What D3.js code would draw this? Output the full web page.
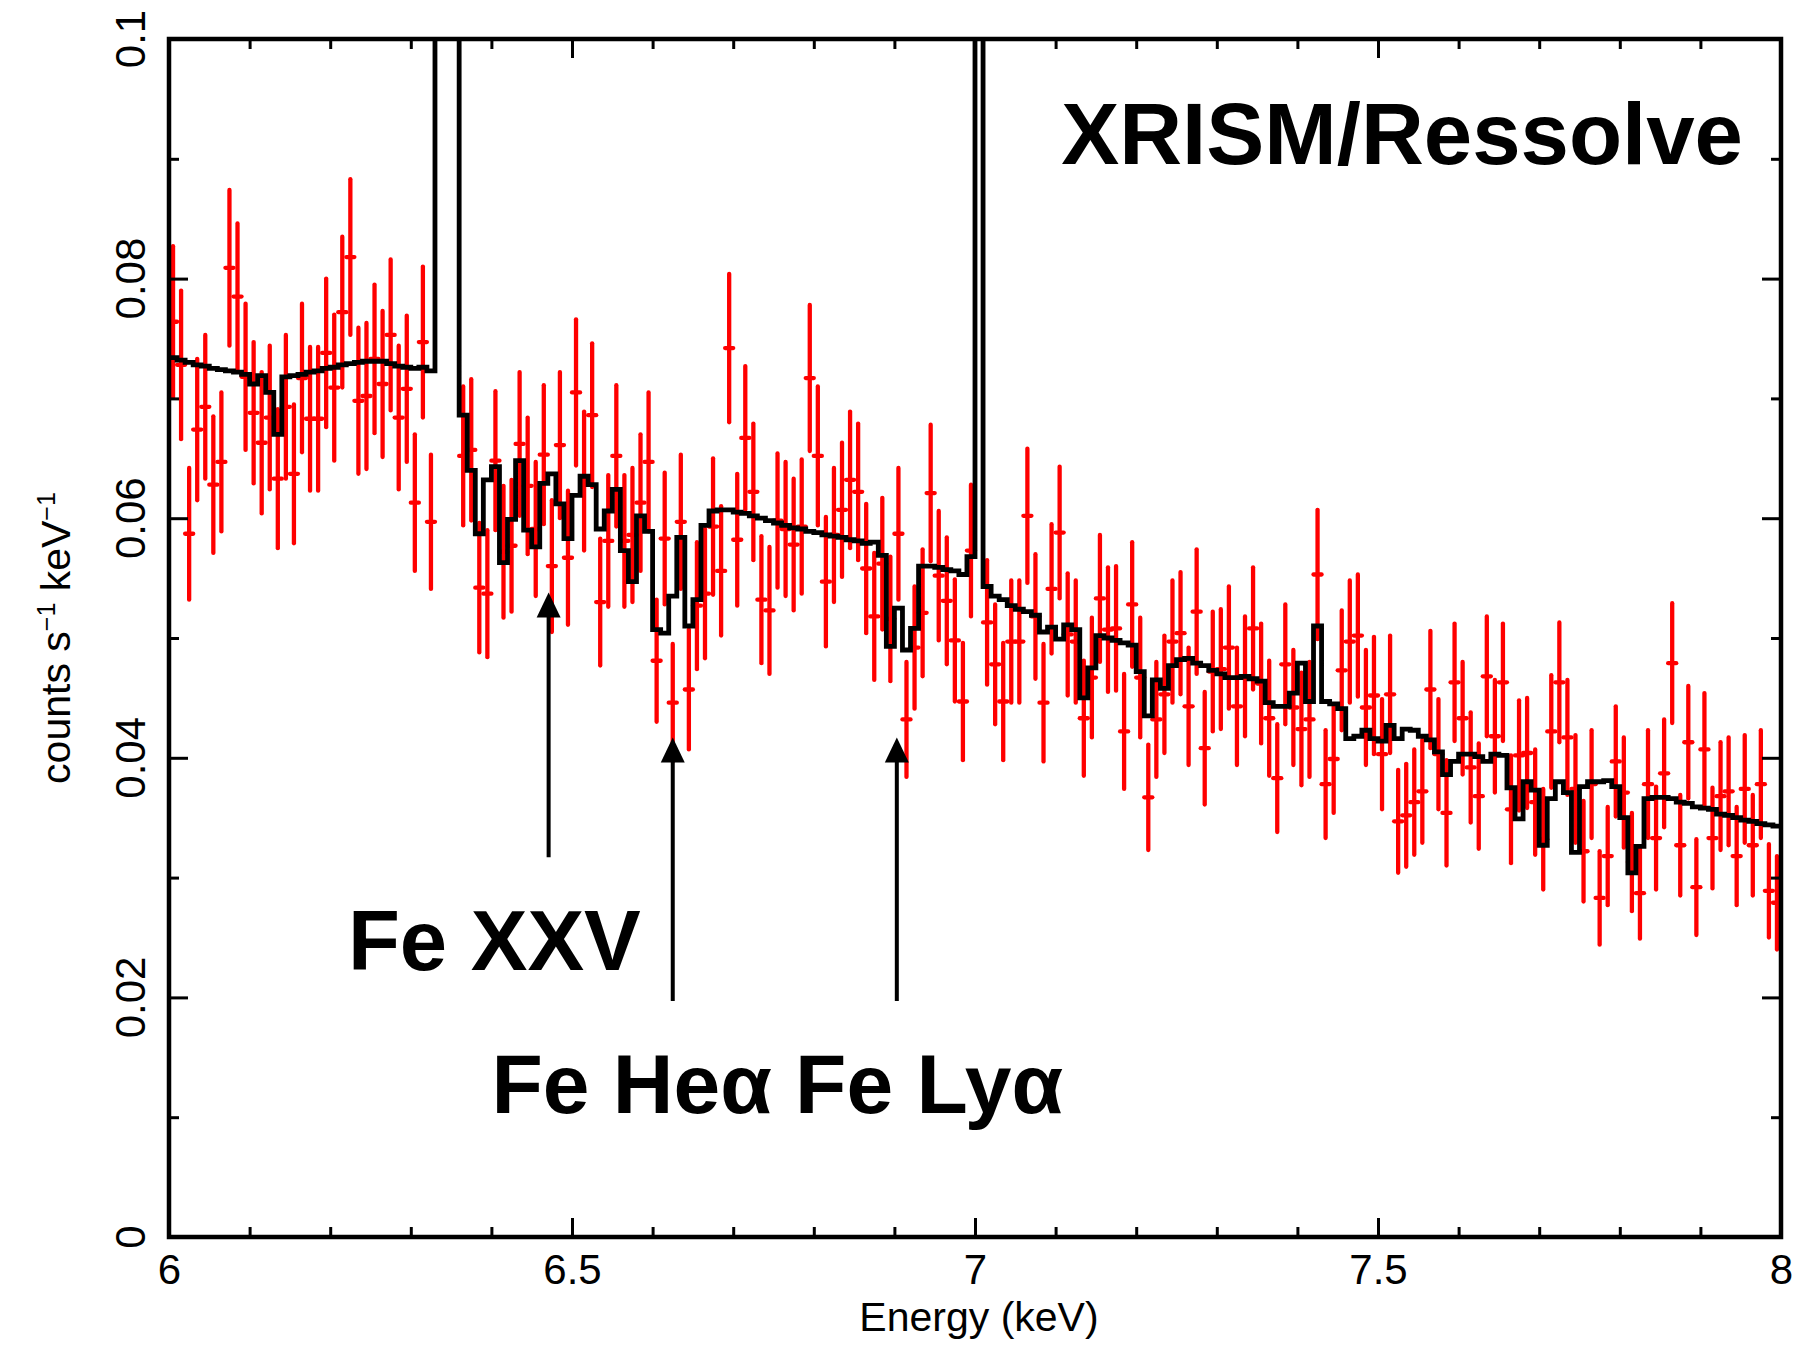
<!DOCTYPE html>
<html><head><meta charset="utf-8">
<script src="https://cdn.jsdelivr.net/npm/d3@7"></script>
<style>body{margin:0;background:#fff} svg{display:block}</style>
</head><body>
<svg id="c" width="1793" height="1346"></svg>
<script>
// ---------- axes / ticks ----------
const xTicksMajor = [6, 6.5, 7, 7.5, 8];
const xTickLabels = ["6", "6.5", "7", "7.5", "8"];
const xTicksMinor = [6.1, 6.2, 6.3, 6.4, 6.6, 6.7, 6.8, 6.9, 7.1, 7.2, 7.3, 7.4, 7.6, 7.7, 7.8, 7.9];
const yTicksMajor = [0, 0.02, 0.04, 0.06, 0.08, 0.1];
const yTickLabels = ["0", "0.02", "0.04", "0.06", "0.08", "0.1"];
const yTicksMinor = [0.01, 0.03, 0.05, 0.07, 0.09];
const xTitle = "Energy (keV)";

// ---------- data (bin centre keV, counts/s/keV, 1-sigma error) ----------
const dataE = [
6.005,6.015,6.025,6.035,6.045,6.055,6.065,6.075,6.085,6.095,
6.105,6.115,6.125,6.135,6.145,6.155,6.165,6.175,6.185,6.195,
6.205,6.215,6.225,6.235,6.245,6.255,6.265,6.275,6.285,6.295,
6.305,6.315,6.325,
6.365,6.375,6.385,6.395,6.405,6.415,6.425,6.435,6.445,6.455,
6.465,6.475,6.485,6.495,6.505,6.515,6.525,6.535,6.545,6.555,
6.565,6.575,6.585,6.595,6.605,6.615,6.625,6.635,6.645,6.655,
6.665,6.675,6.685,6.695,6.705,6.715,6.725,6.735,6.745,6.755,
6.765,6.775,6.785,6.795,6.805,6.815,6.825,6.835,6.845,6.855,
6.865,6.875,6.885,6.895,6.905,6.915,6.925,6.935,6.945,6.955,
6.965,6.975,6.985,6.995,
7.015,7.025,7.035,7.045,7.055,7.065,7.075,7.085,7.095,7.105,
7.115,7.125,7.135,7.145,7.155,7.165,7.175,7.185,7.195,7.205,
7.215,7.225,7.235,7.245,7.255,7.265,7.275,7.285,7.295,7.305,
7.315,7.325,7.335,7.345,7.355,7.365,7.375,7.385,7.395,7.405,
7.415,7.425,7.435,7.445,7.455,7.465,7.475,7.485,7.495,7.505,
7.515,7.525,7.535,7.545,7.555,7.565,7.575,7.585,7.595,7.605,
7.615,7.625,7.635,7.645,7.655,7.665,7.675,7.685,7.695,7.705,
7.715,7.725,7.735,7.745,7.755,7.765,7.775,7.785,7.795,7.805,
7.815,7.825,7.835,7.845,7.855,7.865,7.875,7.885,7.895,7.905,
7.915,7.925,7.935,7.945,7.955,7.965,7.975,7.985,7.995];
const dataY = [
0.0764,0.0728,0.0587,0.0674,0.0693,0.0628,0.0647,0.0809,0.0785,0.0718,
0.0688,0.0663,0.0684,0.0633,0.0693,0.0637,0.0717,0.0683,0.0683,0.0738,
0.0709,0.0772,0.0818,0.0698,0.0702,0.0733,0.0712,0.0753,0.0684,0.0708,
0.0613,0.0747,0.0597,
0.0652,0.0657,0.0542,0.0537,0.0648,0.0572,0.0577,0.0662,0.0627,0.0591,
0.0653,0.0560,0.0661,0.0567,0.0705,0.0631,0.0686,0.0530,0.0581,0.0652,
0.0581,0.0586,0.0613,0.0647,0.0481,0.0583,0.0446,0.0597,0.0457,0.0527,
0.0537,0.0593,0.0556,0.0742,0.0582,0.0667,0.0622,0.0532,0.0523,0.0598,
0.0591,0.0578,0.0593,0.0717,0.0652,0.0547,0.0586,0.0607,0.0632,0.0622,
0.0558,0.0518,0.0562,0.0516,0.0587,0.0432,0.0492,0.0521,0.0621,0.0552,
0.0531,0.0498,0.0447,0.0573,
0.0513,0.0478,0.0447,0.0497,0.0497,0.0602,0.0518,0.0446,0.0541,0.0588,
0.0503,0.0497,0.0433,0.0467,0.0533,0.0507,0.0508,0.0422,0.0528,0.0467,
0.0367,0.0432,0.0453,0.0497,0.0504,0.0443,0.0522,0.0408,0.0472,0.0474,
0.0492,0.0443,0.0468,0.0508,0.0462,0.0433,0.0383,0.0478,0.0442,0.0424,
0.0432,0.0553,0.0378,0.0399,0.0473,0.0497,0.0502,0.0442,0.0452,0.0403,
0.0453,0.0347,0.0352,0.0363,0.0372,0.0457,0.0403,0.0354,0.0463,0.0433,
0.0392,0.0368,0.0468,0.0418,0.0463,0.0357,0.0402,0.0404,0.0363,0.0332,
0.0422,0.0463,0.0417,0.0374,0.0322,0.0378,0.0283,0.0318,0.0397,0.0371,
0.0313,0.0287,0.0378,0.0333,0.0387,0.0479,0.0327,0.0413,0.0292,0.0407,
0.0333,0.0368,0.0372,0.0318,0.0374,0.0327,0.0378,0.0289,0.0279];
const dataErr = [
0.0063,0.0062,0.0055,0.0059,0.0060,0.0057,0.0058,0.0065,0.0061,0.0061,
0.0059,0.0059,0.0060,0.0058,0.0060,0.0058,0.0062,0.0060,0.0060,0.0062,
0.0061,0.0063,0.0065,0.0061,0.0061,0.0062,0.0061,0.0063,0.0060,0.0061,
0.0057,0.0063,0.0056,
0.0058,0.0059,0.0054,0.0053,0.0058,0.0055,0.0055,0.0060,0.0057,0.0056,
0.0058,0.0055,0.0061,0.0056,0.0061,0.0058,0.0060,0.0053,0.0055,0.0059,
0.0055,0.0056,0.0057,0.0058,0.0051,0.0055,0.0049,0.0056,0.0050,0.0053,
0.0054,0.0057,0.0054,0.0062,0.0055,0.0060,0.0057,0.0053,0.0053,0.0056,
0.0056,0.0055,0.0056,0.0061,0.0058,0.0054,0.0056,0.0056,0.0057,0.0057,
0.0054,0.0053,0.0055,0.0052,0.0055,0.0048,0.0051,0.0053,0.0057,0.0054,
0.0053,0.0051,0.0049,0.0055,
0.0052,0.0050,0.0049,0.0051,0.0051,0.0056,0.0052,0.0049,0.0054,0.0055,
0.0051,0.0051,0.0048,0.0050,0.0053,0.0052,0.0052,0.0048,0.0052,0.0050,
0.0044,0.0048,0.0049,0.0051,0.0051,0.0049,0.0052,0.0047,0.0050,0.0050,
0.0051,0.0049,0.0050,0.0051,0.0050,0.0048,0.0045,0.0050,0.0048,0.0047,
0.0048,0.0054,0.0045,0.0045,0.0050,0.0051,0.0051,0.0048,0.0049,0.0046,
0.0049,0.0043,0.0043,0.0044,0.0043,0.0049,0.0046,0.0044,0.0049,0.0047,
0.0046,0.0044,0.0050,0.0047,0.0049,0.0045,0.0046,0.0046,0.0044,0.0042,
0.0047,0.0050,0.0048,0.0045,0.0042,0.0045,0.0039,0.0041,0.0046,0.0046,
0.0041,0.0038,0.0045,0.0043,0.0045,0.0050,0.0042,0.0047,0.0040,0.0047,
0.0042,0.0045,0.0045,0.0041,0.0045,0.0042,0.0045,0.0039,0.0039];

// ---------- folded model, one value per 0.01 keV bin from 6.00 keV ----------
const OFF = 0.5; // emission-line bins, far above the plotted range
const modelStart = 6.0, modelBin = 0.01;
const model = [
0.0734,0.0732,0.0730,0.0728,0.0727,0.0725,0.0724,0.0723,0.0722,0.0720,
0.0712,0.0719,0.0705,0.0670,0.0718,0.0719,0.0720,0.0722,0.0723,0.0725,
0.0726,0.0728,0.0729,0.0730,0.0731,0.0731,0.0731,0.0729,0.0727,0.0726,
0.0725,0.0726,0.0723,OFF,OFF,OFF,0.0686,0.0640,0.0587,0.0632,
0.0643,0.0563,0.0599,0.0648,0.0590,0.0576,0.0629,0.0637,0.0612,0.0583,
0.0619,0.0635,0.0628,0.0591,0.0606,0.0624,0.0573,0.0547,0.0602,0.0589,
0.0507,0.0504,0.0535,0.0584,0.0510,0.0532,0.0594,0.0606,0.0607,0.0607,
0.0605,0.0604,0.0602,0.0600,0.0598,0.0596,0.0594,0.0592,0.0591,0.0589,
0.0588,0.0586,0.0585,0.0584,0.0582,0.0581,0.0579,0.0580,0.0569,0.0493,
0.0525,0.0490,0.0508,0.0560,0.0560,0.0559,0.0557,0.0556,0.0553,0.0568,
OFF,0.0543,0.0535,0.0532,0.0527,0.0524,0.0522,0.0519,0.0505,0.0509,
0.0499,0.0511,0.0507,0.0450,0.0475,0.0502,0.0500,0.0498,0.0496,0.0494,
0.0472,0.0435,0.0465,0.0458,0.0477,0.0482,0.0483,0.0479,0.0477,0.0473,
0.0470,0.0467,0.0467,0.0468,0.0466,0.0464,0.0446,0.0443,0.0443,0.0454,
0.0479,0.0447,0.0510,0.0447,0.0445,0.0441,0.0416,0.0418,0.0423,0.0416,
0.0414,0.0427,0.0416,0.0424,0.0423,0.0418,0.0415,0.0405,0.0386,0.0397,
0.0403,0.0403,0.0401,0.0397,0.0403,0.0402,0.0375,0.0349,0.0380,0.0373,
0.0327,0.0366,0.0380,0.0371,0.0321,0.0376,0.0380,0.0380,0.0381,0.0376,
0.0350,0.0304,0.0326,0.0366,0.0367,0.0367,0.0366,0.0363,0.0362,0.0359,
0.0358,0.0357,0.0353,0.0352,0.0350,0.0348,0.0347,0.0345,0.0344,0.0343];

// ---------- annotations ----------
const arrowE    = [6.471, 6.625, 6.903];
const arrowTip  = [0.0538, 0.0417, 0.0417];
const arrowBase = [0.0317, 0.0197, 0.0197];
const labelText = ["XRISM/Ressolve", "Fe XXV", "Fe Heα Fe Lyα"];
const labelE    = [7.107, 6.222, 6.400];
const labelY    = [0.0896, 0.0223, 0.01035];
const labelSize = [87, 85, 84];

// ---------- layout ----------
const W = 1793, H = 1346;
const m = {left: 169, right: 1781, top: 39, bottom: 1237};
const FONT = "'Liberation Sans', Arial, Helvetica, sans-serif";
const svg = d3.select("#c");
svg.append("rect").attr("width", W).attr("height", H).attr("fill", "#fff");

const x = d3.scaleLinear().domain([6, 8]).range([m.left, m.right]);
const y = d3.scaleLinear().domain([0, 0.1]).range([m.bottom, m.top]);

svg.append("defs").append("clipPath").attr("id", "clip")
  .append("rect").attr("x", m.left).attr("y", m.top)
  .attr("width", m.right - m.left).attr("height", m.bottom - m.top);

const plot = svg.append("g").attr("clip-path", "url(#clip)");

// data error bars
const pts = dataE.map((e, i) => ({e, v: dataY[i], s: dataErr[i]}));
const half = modelBin / 2;
const gData = plot.append("g").attr("stroke", "#ff0000").attr("stroke-width", 4.3)
  .attr("stroke-linecap", "round");
gData.selectAll("line.v").data(pts).join("line").attr("class", "v")
  .attr("x1", d => x(d.e)).attr("x2", d => x(d.e))
  .attr("y1", d => y(d.v - d.s)).attr("y2", d => y(d.v + d.s));
gData.selectAll("line.h").data(pts).join("line").attr("class", "h")
  .attr("x1", d => x(d.e - half)).attr("x2", d => x(d.e + half))
  .attr("y1", d => y(d.v)).attr("y2", d => y(d.v));

// model step line
const steps = model.map((v, i) => [modelStart + i * modelBin, v]);
steps.push([modelStart + model.length * modelBin, model[model.length - 1]]);
const line = d3.line().x(d => x(d[0])).y(d => y(d[1])).curve(d3.curveStepAfter);
plot.append("path").attr("d", line(steps)).attr("fill", "none")
  .attr("stroke", "#000").attr("stroke-width", 4.8).attr("stroke-linejoin", "miter");

// axes (inward ticks on all sides)
function styleAxis(g) {
  g.select(".domain").remove();
  g.selectAll(".tick line").attr("stroke", "#000").attr("stroke-width", 3);
  g.selectAll("text").attr("font-family", FONT).attr("font-size", 42).attr("fill", "#000");
}
const MAJ = 19, MIN = 10;
svg.append("g").attr("transform", `translate(0,${m.bottom})`)
  .call(d3.axisBottom(x).tickValues(xTicksMajor).tickSize(-MAJ).tickPadding(17)
    .tickFormat((d, i) => xTickLabels[i])).call(styleAxis)
  .selectAll("text").attr("dy", "0.71em");
svg.append("g").attr("transform", `translate(0,${m.bottom})`)
  .call(d3.axisBottom(x).tickValues(xTicksMinor).tickSize(-MIN).tickFormat("")).call(styleAxis);
svg.append("g").attr("transform", `translate(0,${m.top})`)
  .call(d3.axisTop(x).tickValues(xTicksMajor).tickSize(-MAJ).tickFormat("")).call(styleAxis);
svg.append("g").attr("transform", `translate(0,${m.top})`)
  .call(d3.axisTop(x).tickValues(xTicksMinor).tickSize(-MIN).tickFormat("")).call(styleAxis);
svg.append("g").attr("transform", `translate(${m.left},0)`)
  .call(d3.axisLeft(y).tickValues(yTicksMajor).tickSize(-MAJ).tickFormat("")).call(styleAxis);
svg.append("g").attr("transform", `translate(${m.left},0)`)
  .call(d3.axisLeft(y).tickValues(yTicksMinor).tickSize(-MIN).tickFormat("")).call(styleAxis);
svg.append("g").attr("transform", `translate(${m.right},0)`)
  .call(d3.axisRight(y).tickValues(yTicksMajor).tickSize(-MAJ).tickFormat("")).call(styleAxis);
svg.append("g").attr("transform", `translate(${m.right},0)`)
  .call(d3.axisRight(y).tickValues(yTicksMinor).tickSize(-MIN).tickFormat("")).call(styleAxis);

// rotated y tick labels
svg.append("g").selectAll("text").data(yTicksMajor).join("text")
  .attr("transform", d => `translate(145,${y(d)}) rotate(-90)`)
  .attr("text-anchor", "middle").attr("font-family", FONT).attr("font-size", 42)
  .text((d, i) => yTickLabels[i]);

// frame
svg.append("rect").attr("x", m.left).attr("y", m.top)
  .attr("width", m.right - m.left).attr("height", m.bottom - m.top)
  .attr("fill", "none").attr("stroke", "#000").attr("stroke-width", 4.5);

// axis titles
svg.append("text").attr("x", (m.left + m.right) / 2 + 4).attr("y", 1331)
  .attr("text-anchor", "middle").attr("font-family", FONT).attr("font-size", 41)
  .text(xTitle);
const yt = svg.append("text").attr("transform", `translate(70,${(m.top + m.bottom) / 2}) rotate(-90)`)
  .attr("text-anchor", "middle").attr("font-family", FONT).attr("font-size", 41);
yt.append("tspan").text("counts s");
yt.append("tspan").attr("font-size", 25).attr("dy", -15).text("−1");
yt.append("tspan").attr("dy", 15).text(" keV");
yt.append("tspan").attr("font-size", 25).attr("dy", -15).text("−1");

// arrows
const gA = svg.append("g");
arrowE.forEach((e, i) => {
  const ax = x(e), ty = y(arrowTip[i]), by = y(arrowBase[i]);
  gA.append("line").attr("x1", ax).attr("x2", ax).attr("y1", by).attr("y2", ty + 20)
    .attr("stroke", "#000").attr("stroke-width", 4);
  gA.append("path").attr("d", `M${ax},${ty} L${ax - 12},${ty + 25} L${ax + 12},${ty + 25} Z`)
    .attr("fill", "#000");
});

// labels
labelText.forEach((t, i) => {
  svg.append("text").attr("x", x(labelE[i])).attr("y", y(labelY[i]))
    .attr("font-family", FONT).attr("font-weight", "bold").attr("font-size", labelSize[i])
    .attr("fill", "#000").text(t);
});
</script>
</body></html>
